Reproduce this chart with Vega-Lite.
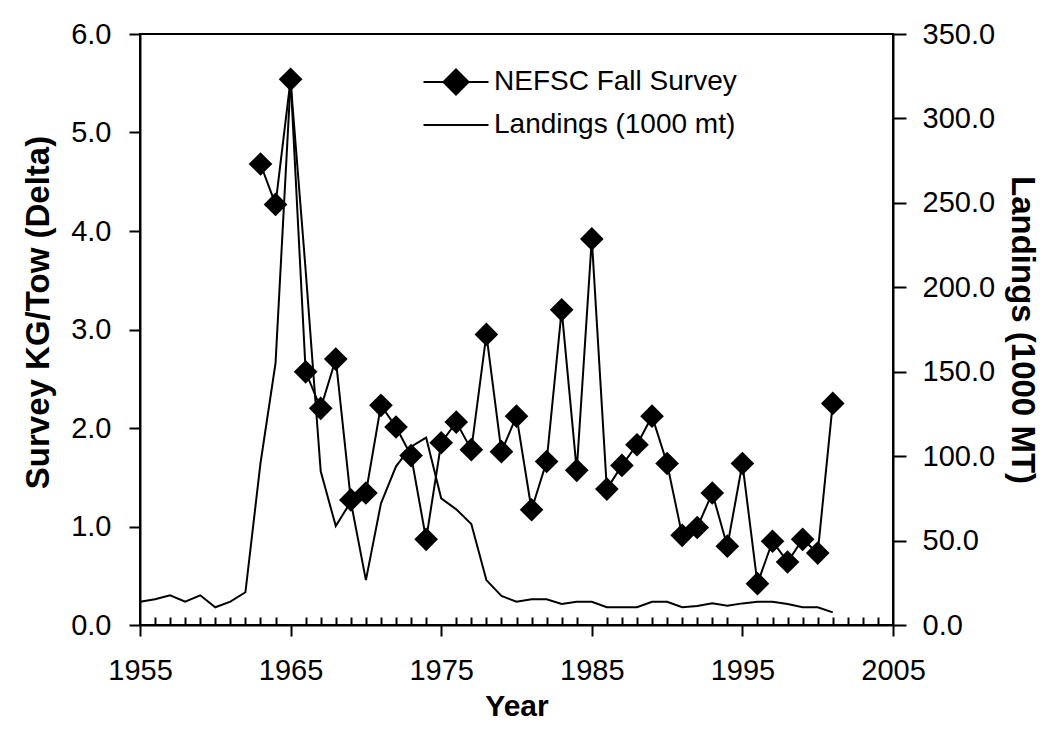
{
  "$schema": "https://vega.github.io/schema/vega-lite/v6.json",
  "width": 753,
  "height": 591,
  "autosize": {"type": "none"},
  "padding": {"left": 140, "top": 34, "right": 159, "bottom": 115},
  "background": "white",
  "config": {
    "font": "Liberation Sans",
    "view": {"stroke": "black", "strokeWidth": 2},
    "axis": {
      "domainColor": "black", "domainWidth": 2, "tickColor": "black", "tickWidth": 2,
      "labelColor": "black", "titleColor": "black", "labelFont": "Liberation Sans", "titleFont": "Liberation Sans",
      "labelFontSize": 29, "titleFontSize": 30, "titleFontWeight": "bold", "grid": false
    }
  },
  "data": {"values": [
    {"year": 1955, "survey": null, "landings": 13.8},
    {"year": 1956, "survey": null, "landings": 15.2},
    {"year": 1957, "survey": null, "landings": 17.6},
    {"year": 1958, "survey": null, "landings": 13.8},
    {"year": 1959, "survey": null, "landings": 17.6},
    {"year": 1960, "survey": null, "landings": 10.5},
    {"year": 1961, "survey": null, "landings": 13.8},
    {"year": 1962, "survey": null, "landings": 19.4},
    {"year": 1963, "survey": 4.68, "landings": 95.8},
    {"year": 1964, "survey": 4.27, "landings": 155},
    {"year": 1965, "survey": 5.54, "landings": 322},
    {"year": 1966, "survey": 2.57, "landings": 210},
    {"year": 1967, "survey": 2.20, "landings": 91},
    {"year": 1968, "survey": 2.70, "landings": 58.6},
    {"year": 1969, "survey": 1.27, "landings": 73},
    {"year": 1970, "survey": 1.34, "landings": 26.6},
    {"year": 1971, "survey": 2.23, "landings": 72},
    {"year": 1972, "survey": 2.01, "landings": 94},
    {"year": 1973, "survey": 1.72, "landings": 105.6},
    {"year": 1974, "survey": 0.87, "landings": 111},
    {"year": 1975, "survey": 1.85, "landings": 75},
    {"year": 1976, "survey": 2.06, "landings": 68.5},
    {"year": 1977, "survey": 1.78, "landings": 59.8},
    {"year": 1978, "survey": 2.95, "landings": 26.6},
    {"year": 1979, "survey": 1.76, "landings": 17.2},
    {"year": 1980, "survey": 2.12, "landings": 13.8},
    {"year": 1981, "survey": 1.17, "landings": 15.2},
    {"year": 1982, "survey": 1.66, "landings": 15.2},
    {"year": 1983, "survey": 3.20, "landings": 12.4},
    {"year": 1984, "survey": 1.57, "landings": 13.8},
    {"year": 1985, "survey": 3.92, "landings": 13.8},
    {"year": 1986, "survey": 1.38, "landings": 10.5},
    {"year": 1987, "survey": 1.62, "landings": 10.5},
    {"year": 1988, "survey": 1.83, "landings": 10.5},
    {"year": 1989, "survey": 2.12, "landings": 13.8},
    {"year": 1990, "survey": 1.64, "landings": 13.8},
    {"year": 1991, "survey": 0.91, "landings": 10.5},
    {"year": 1992, "survey": 0.99, "landings": 11.2},
    {"year": 1993, "survey": 1.34, "landings": 12.8},
    {"year": 1994, "survey": 0.80, "landings": 11.4},
    {"year": 1995, "survey": 1.64, "landings": 12.8},
    {"year": 1996, "survey": 0.42, "landings": 13.8},
    {"year": 1997, "survey": 0.85, "landings": 13.8},
    {"year": 1998, "survey": 0.64, "landings": 12.4},
    {"year": 1999, "survey": 0.87, "landings": 10.5},
    {"year": 2000, "survey": 0.73, "landings": 10.5},
    {"year": 2001, "survey": 2.25, "landings": 7.5}
  ]},
  "layer": [
    {
      "mark": {"type": "line", "strokeWidth": 2, "point": {"shape": "diamond", "filled": true, "size": 560}},
      "encoding": {
        "x": {
          "field": "year", "type": "quantitative",
          "scale": {"domain": [1955, 2005], "nice": false, "zero": false},
          "axis": {
            "orient": "bottom", "values": [1955, 1965, 1975, 1985, 1995, 2005], "format": "d",
            "tickSize": 11, "labelPadding": 20, "title": "Year", "titlePadding": 6, "labelFlush": false
          }
        },
        "y": {
          "field": "survey", "type": "quantitative",
          "scale": {"domain": [0, 6], "nice": false},
          "axis": {
            "orient": "left", "values": [0, 1, 2, 3, 4, 5, 6], "format": ".1f",
            "tickSize": 11, "labelPadding": 18, "title": "Survey KG/Tow (Delta)", "titleFontSize": 33,
            "titleX": -102, "titleY": 278, "titleBaseline": "middle", "titleAlign": "center"
          }
        },
        "color": {
          "datum": "NEFSC Fall Survey", "type": "nominal",
          "scale": {"domain": ["NEFSC Fall Survey", "Landings (1000 mt)"], "range": ["black", "black"]},
          "legend": {
            "title": null, "orient": "none", "legendX": 290, "legendY": 22, "padding": 0,
            "symbolSize": 2500, "symbolStrokeWidth": 2, "symbolStrokeColor": "black", "symbolFillColor": "black",
            "labelOffset": 12, "rowPadding": 0, "labelFontSize": 28, "labelFont": "Liberation Sans", "labelColor": "black",
            "labelLimit": 400,
            "encode": {
              "symbols": {
                "update": {
                  "shape": {"signal": "datum.value === 'NEFSC Fall Survey' ? 'M-1.3,0H1.3M0,-0.5L0.5,0L0,0.5L-0.5,0Z' : 'M-1.3,0H1.3'"},
                  "fill": {"value": "black"},
                  "stroke": {"value": "black"},
                  "strokeWidth": {"value": 2}
                }
              }
            }
          }
        }
      }
    },
    {
      "mark": {"type": "line", "strokeWidth": 2},
      "encoding": {
        "x": {
          "field": "year", "type": "quantitative",
          "axis": {
            "orient": "bottom", "values": [1956,1957,1958,1959,1960,1961,1962,1963,1964,1966,1967,1968,1969,1970,1971,1972,1973,1974,1976,1977,1978,1979,1980,1981,1982,1983,1984,1986,1987,1988,1989,1990,1991,1992,1993,1994,1996,1997,1998,1999,2000,2001,2002,2003,2004],
            "tickSize": -8, "labels": false, "domain": false, "title": null
          }
        },
        "y": {
          "field": "landings", "type": "quantitative",
          "scale": {"domain": [0, 350], "nice": false},
          "axis": {
            "orient": "right", "values": [0, 50, 100, 150, 200, 250, 300, 350], "format": ".1f",
            "tickSize": 13, "labelPadding": 16, "title": "Landings (1000 MT)", "titleFontSize": 33,
            "titleAngle": 90, "titleX": 128, "titleBaseline": "middle", "titleAlign": "center"
          }
        },
        "color": {"datum": "Landings (1000 mt)", "type": "nominal"}
      }
    }
  ],
  "resolve": {"scale": {"y": "independent"}, "axis": {"x": "independent"}}
}
